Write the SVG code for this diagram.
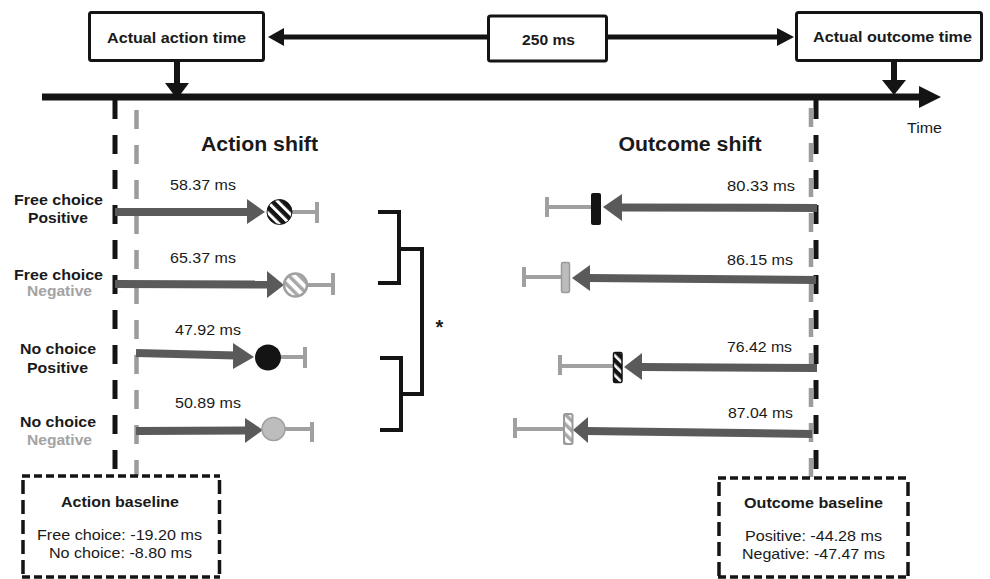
<svg xmlns="http://www.w3.org/2000/svg" width="990" height="579" viewBox="0 0 990 579">
<style>
text{font-family:"Liberation Sans",Arial,sans-serif;fill:#1a1a1a}
.b{font-weight:bold}
.lab{font-size:15.5px;font-weight:bold;text-anchor:middle}
.neg{fill:#a3a3a3}
.num{font-size:15px;text-anchor:middle}
.box{fill:#fff;stroke:#141414;stroke-width:3}
.arr{fill:#5a5a5a}
.shaft{stroke:#5a5a5a;stroke-width:8;fill:none}
.err{stroke:#a0a0a0;stroke-width:4;fill:none}
.dk{stroke:#141414;stroke-width:5;stroke-dasharray:19 16;fill:none}
.dg{stroke:#9c9c9c;stroke-width:4.5;stroke-dasharray:19 16;fill:none}
.bh{stroke:#141414;stroke-width:3.5;stroke-dasharray:8 4;fill:none}
.bv{stroke:#141414;stroke-width:3.5;stroke-dasharray:14 6;fill:none}
.br{stroke:#141414;stroke-width:4;fill:none}
</style>
<defs>
<pattern id="stW" width="7.5" height="7.5" patternUnits="userSpaceOnUse" patternTransform="rotate(-45)">
<rect width="7.5" height="7.5" fill="#141414"/><rect width="3" height="7.5" fill="#fff"/>
</pattern>
<pattern id="stG" width="7.5" height="7.5" patternUnits="userSpaceOnUse" patternTransform="rotate(-45)">
<rect width="7.5" height="7.5" fill="#fff"/><rect width="3.5" height="7.5" fill="#a8a8a8"/>
</pattern>
<pattern id="stW2" width="7" height="7" patternUnits="userSpaceOnUse" patternTransform="rotate(-45)">
<rect width="7" height="7" fill="#141414"/><rect width="2.6" height="7" fill="#fff"/>
</pattern>
<pattern id="stG2" width="7" height="7" patternUnits="userSpaceOnUse" patternTransform="rotate(-45)">
<rect width="7" height="7" fill="#fff"/><rect width="3.5" height="7" fill="#a8a8a8"/>
</pattern>
</defs>

<g id="connectors">
<line x1="42" y1="97" x2="922" y2="97" stroke="#141414" stroke-width="7"/>
<polygon points="919,86 941,97 919,108" fill="#141414"/>
<line x1="282" y1="37" x2="488" y2="37" stroke="#141414" stroke-width="5"/>
<line x1="607" y1="37" x2="779" y2="37" stroke="#141414" stroke-width="5"/>
<polygon points="268,37 284,28 284,46" fill="#141414"/>
<polygon points="794,37 777,28 777,46" fill="#141414"/>
<line x1="177" y1="61" x2="177" y2="86" stroke="#141414" stroke-width="6"/>
<polygon points="165,83 189,83 177,99" fill="#141414"/>
<line x1="894" y1="61" x2="894" y2="82" stroke="#141414" stroke-width="6"/>
<polygon points="882,80 906,80 894,95" fill="#141414"/>
<line class="dk" x1="115" y1="100" x2="115" y2="473"/>
<line class="dg" x1="136.5" y1="110" x2="136.5" y2="476"/>
<line class="dk" x1="816" y1="100" x2="816" y2="473"/>
<line class="dg" x1="811" y1="108" x2="811" y2="478"/>
<polyline class="br" points="378,212 399,212 399,283 378,283"/>
<polyline class="br" points="380,358 401,358 401,430 380,430"/>
<polyline class="br" points="399,249 422,249 422,394 401,394"/>
</g>

<g id="top-action-box">
<rect class="box" x="89.5" y="12.5" width="174" height="48" rx="2"/>
<text class="b" x="176.5" y="43" font-size="15.5" text-anchor="middle" textLength="139" lengthAdjust="spacingAndGlyphs">Actual action time</text>
</g>
<g id="top-interval-box">
<rect class="box" x="488.5" y="16" width="118" height="45" rx="2"/>
<text class="b" x="548.5" y="45" font-size="15.5" text-anchor="middle" textLength="53" lengthAdjust="spacingAndGlyphs">250 ms</text>
</g>
<g id="top-outcome-box">
<rect class="box" x="796.5" y="12.5" width="185" height="48" rx="2"/>
<text class="b" x="892.5" y="42" font-size="15.5" text-anchor="middle" textLength="159" lengthAdjust="spacingAndGlyphs">Actual outcome time</text>
</g>
<g id="time-label">
<text x="924.5" y="133" font-size="15" text-anchor="middle" textLength="35" lengthAdjust="spacingAndGlyphs">Time</text>
</g>

<g id="titles">
<text class="b" x="259.5" y="151" font-size="19.5" text-anchor="middle" textLength="117" lengthAdjust="spacingAndGlyphs">Action shift</text>
<text class="b" x="690" y="151" font-size="19.5" text-anchor="middle" textLength="143" lengthAdjust="spacingAndGlyphs">Outcome shift</text>
</g>

<g id="row-labels">
<text class="lab" x="58.5" y="205" textLength="89" lengthAdjust="spacingAndGlyphs">Free choice</text>
<text class="lab" x="58" y="223" textLength="60" lengthAdjust="spacingAndGlyphs">Positive</text>
<text class="lab" x="58.5" y="280" textLength="89" lengthAdjust="spacingAndGlyphs">Free choice</text>
<text class="lab neg" x="59.5" y="296" textLength="65" lengthAdjust="spacingAndGlyphs">Negative</text>
<text class="lab" x="58" y="354" textLength="76" lengthAdjust="spacingAndGlyphs">No choice</text>
<text class="lab" x="57.5" y="373" textLength="61" lengthAdjust="spacingAndGlyphs">Positive</text>
<text class="lab" x="58" y="427" textLength="76" lengthAdjust="spacingAndGlyphs">No choice</text>
<text class="lab neg" x="59.5" y="445" textLength="65" lengthAdjust="spacingAndGlyphs">Negative</text>
</g>

<g id="action-fc-pos">
<line class="shaft" x1="115" y1="212" x2="249" y2="212"/>
<polygon class="arr" points="247,199 265,212 247,224"/>
<line class="err" x1="292" y1="212" x2="317" y2="212"/>
<line class="err" x1="317" y1="202" x2="317" y2="223"/>
<circle cx="279.5" cy="212" r="12.5" fill="url(#stW)" stroke="#141414" stroke-width="1"/>
<text class="num" x="203" y="190" textLength="66" lengthAdjust="spacingAndGlyphs">58.37 ms</text>
</g>
<g id="action-fc-neg">
<line class="shaft" x1="115" y1="284" x2="269" y2="284.5"/>
<polygon class="arr" points="267,271 284,285 267,298"/>
<line class="err" x1="308" y1="285" x2="333" y2="285"/>
<line class="err" x1="333" y1="273" x2="333" y2="295"/>
<circle cx="295.5" cy="285" r="11.5" fill="url(#stG)" stroke="#a0a0a0" stroke-width="2.5"/>
<text class="num" x="203" y="263" textLength="66" lengthAdjust="spacingAndGlyphs">65.37 ms</text>
</g>
<g id="action-nc-pos">
<line class="shaft" x1="136" y1="353" x2="236" y2="355.5"/>
<polygon class="arr" points="233,343 254,357 233,369"/>
<line class="err" x1="281" y1="357" x2="305" y2="357"/>
<line class="err" x1="305" y1="347" x2="305" y2="368"/>
<ellipse cx="268" cy="357.5" rx="13" ry="13" fill="#141414"/>
<text class="num" x="208" y="335" textLength="66" lengthAdjust="spacingAndGlyphs">47.92 ms</text>
</g>
<g id="action-nc-neg">
<line class="shaft" x1="136" y1="431" x2="247" y2="430.5"/>
<polygon class="arr" points="245,418 263,430 245,443"/>
<line class="err" x1="285" y1="429" x2="312" y2="429"/>
<line class="err" x1="312" y1="422" x2="312" y2="442"/>
<circle cx="273.5" cy="429" r="11.5" fill="#bdbdbd" stroke="#a0a0a0" stroke-width="1.5"/>
<text class="num" x="208" y="408" textLength="66" lengthAdjust="spacingAndGlyphs">50.89 ms</text>
</g>

<g id="significance">
<text class="b" x="439.5" y="334" font-size="20" text-anchor="middle">*</text>
</g>

<g id="outcome-fc-pos">
<line class="shaft" x1="817" y1="208" x2="620" y2="207.5"/>
<polygon class="arr" points="622,194 603,207 622,221"/>
<line class="err" x1="591" y1="207" x2="547" y2="207"/>
<line class="err" x1="547" y1="197" x2="547" y2="217"/>
<rect x="591" y="193" width="10" height="32" rx="2" fill="#141414"/>
<text class="num" x="761" y="191" textLength="68" lengthAdjust="spacingAndGlyphs">80.33 ms</text>
</g>
<g id="outcome-fc-neg">
<line class="shaft" x1="816" y1="280" x2="588" y2="278"/>
<polygon class="arr" points="590,265 572,278 590,291"/>
<line class="err" x1="561" y1="277" x2="524" y2="277"/>
<line class="err" x1="524" y1="267" x2="524" y2="287"/>
<rect x="561.5" y="262.5" width="8" height="30" rx="1.5" fill="#bcbcbc" stroke="#9a9a9a" stroke-width="1.5"/>
<text class="num" x="760" y="265" textLength="66" lengthAdjust="spacingAndGlyphs">86.15 ms</text>
</g>
<g id="outcome-nc-pos">
<line class="shaft" x1="817" y1="368" x2="640" y2="367"/>
<polygon class="arr" points="642,353 624,367 642,380"/>
<line class="err" x1="613" y1="366" x2="560" y2="366"/>
<line class="err" x1="560" y1="355" x2="560" y2="375"/>
<rect x="613.5" y="352.5" width="8.5" height="30" rx="1.5" fill="url(#stW2)" stroke="#141414" stroke-width="1.5"/>
<text class="num" x="759.5" y="352" textLength="65" lengthAdjust="spacingAndGlyphs">76.42 ms</text>
</g>
<g id="outcome-nc-neg">
<line class="shaft" x1="812" y1="434" x2="586" y2="431"/>
<polygon class="arr" points="588,417 573,430 588,443"/>
<line class="err" x1="563" y1="429" x2="515" y2="429"/>
<line class="err" x1="515" y1="418" x2="515" y2="438"/>
<rect x="564" y="414" width="8.5" height="30" rx="1.5" fill="url(#stG2)" stroke="#9a9a9a" stroke-width="2"/>
<text class="num" x="760.5" y="418" textLength="65" lengthAdjust="spacingAndGlyphs">87.04 ms</text>
</g>

<g id="action-baseline">
<rect x="22" y="476" width="198" height="110" fill="#fff"/>
<line class="bh" x1="22" y1="476" x2="220" y2="476"/>
<line class="bh" x1="22" y1="577" x2="220" y2="577"/>
<line class="bv" x1="23" y1="480" x2="23" y2="579"/>
<line class="bv" x1="219.5" y1="480" x2="219.5" y2="579"/>
<text class="b" x="120" y="507" font-size="14" text-anchor="middle" textLength="118" lengthAdjust="spacingAndGlyphs">Action baseline</text>
<text x="119.5" y="540" font-size="14.5" text-anchor="middle" textLength="165" lengthAdjust="spacingAndGlyphs">Free choice: -19.20 ms</text>
<text x="120.5" y="558" font-size="14.5" text-anchor="middle" textLength="143" lengthAdjust="spacingAndGlyphs">No choice: -8.80 ms</text>
</g>
<g id="outcome-baseline">
<rect x="718" y="478" width="191" height="110" fill="#fff"/>
<line class="bh" x1="718" y1="478" x2="909" y2="478"/>
<line class="bh" x1="718" y1="577" x2="909" y2="577"/>
<line class="bv" x1="719" y1="482" x2="719" y2="579"/>
<line class="bv" x1="908" y1="482" x2="908" y2="579"/>
<text class="b" x="813.5" y="508" font-size="14" text-anchor="middle" textLength="139" lengthAdjust="spacingAndGlyphs">Outcome baseline</text>
<text x="813.5" y="541" font-size="14.5" text-anchor="middle" textLength="137" lengthAdjust="spacingAndGlyphs">Positive: -44.28 ms</text>
<text x="813.5" y="559" font-size="14.5" text-anchor="middle" textLength="143" lengthAdjust="spacingAndGlyphs">Negative: -47.47 ms</text>
</g>
</svg>
